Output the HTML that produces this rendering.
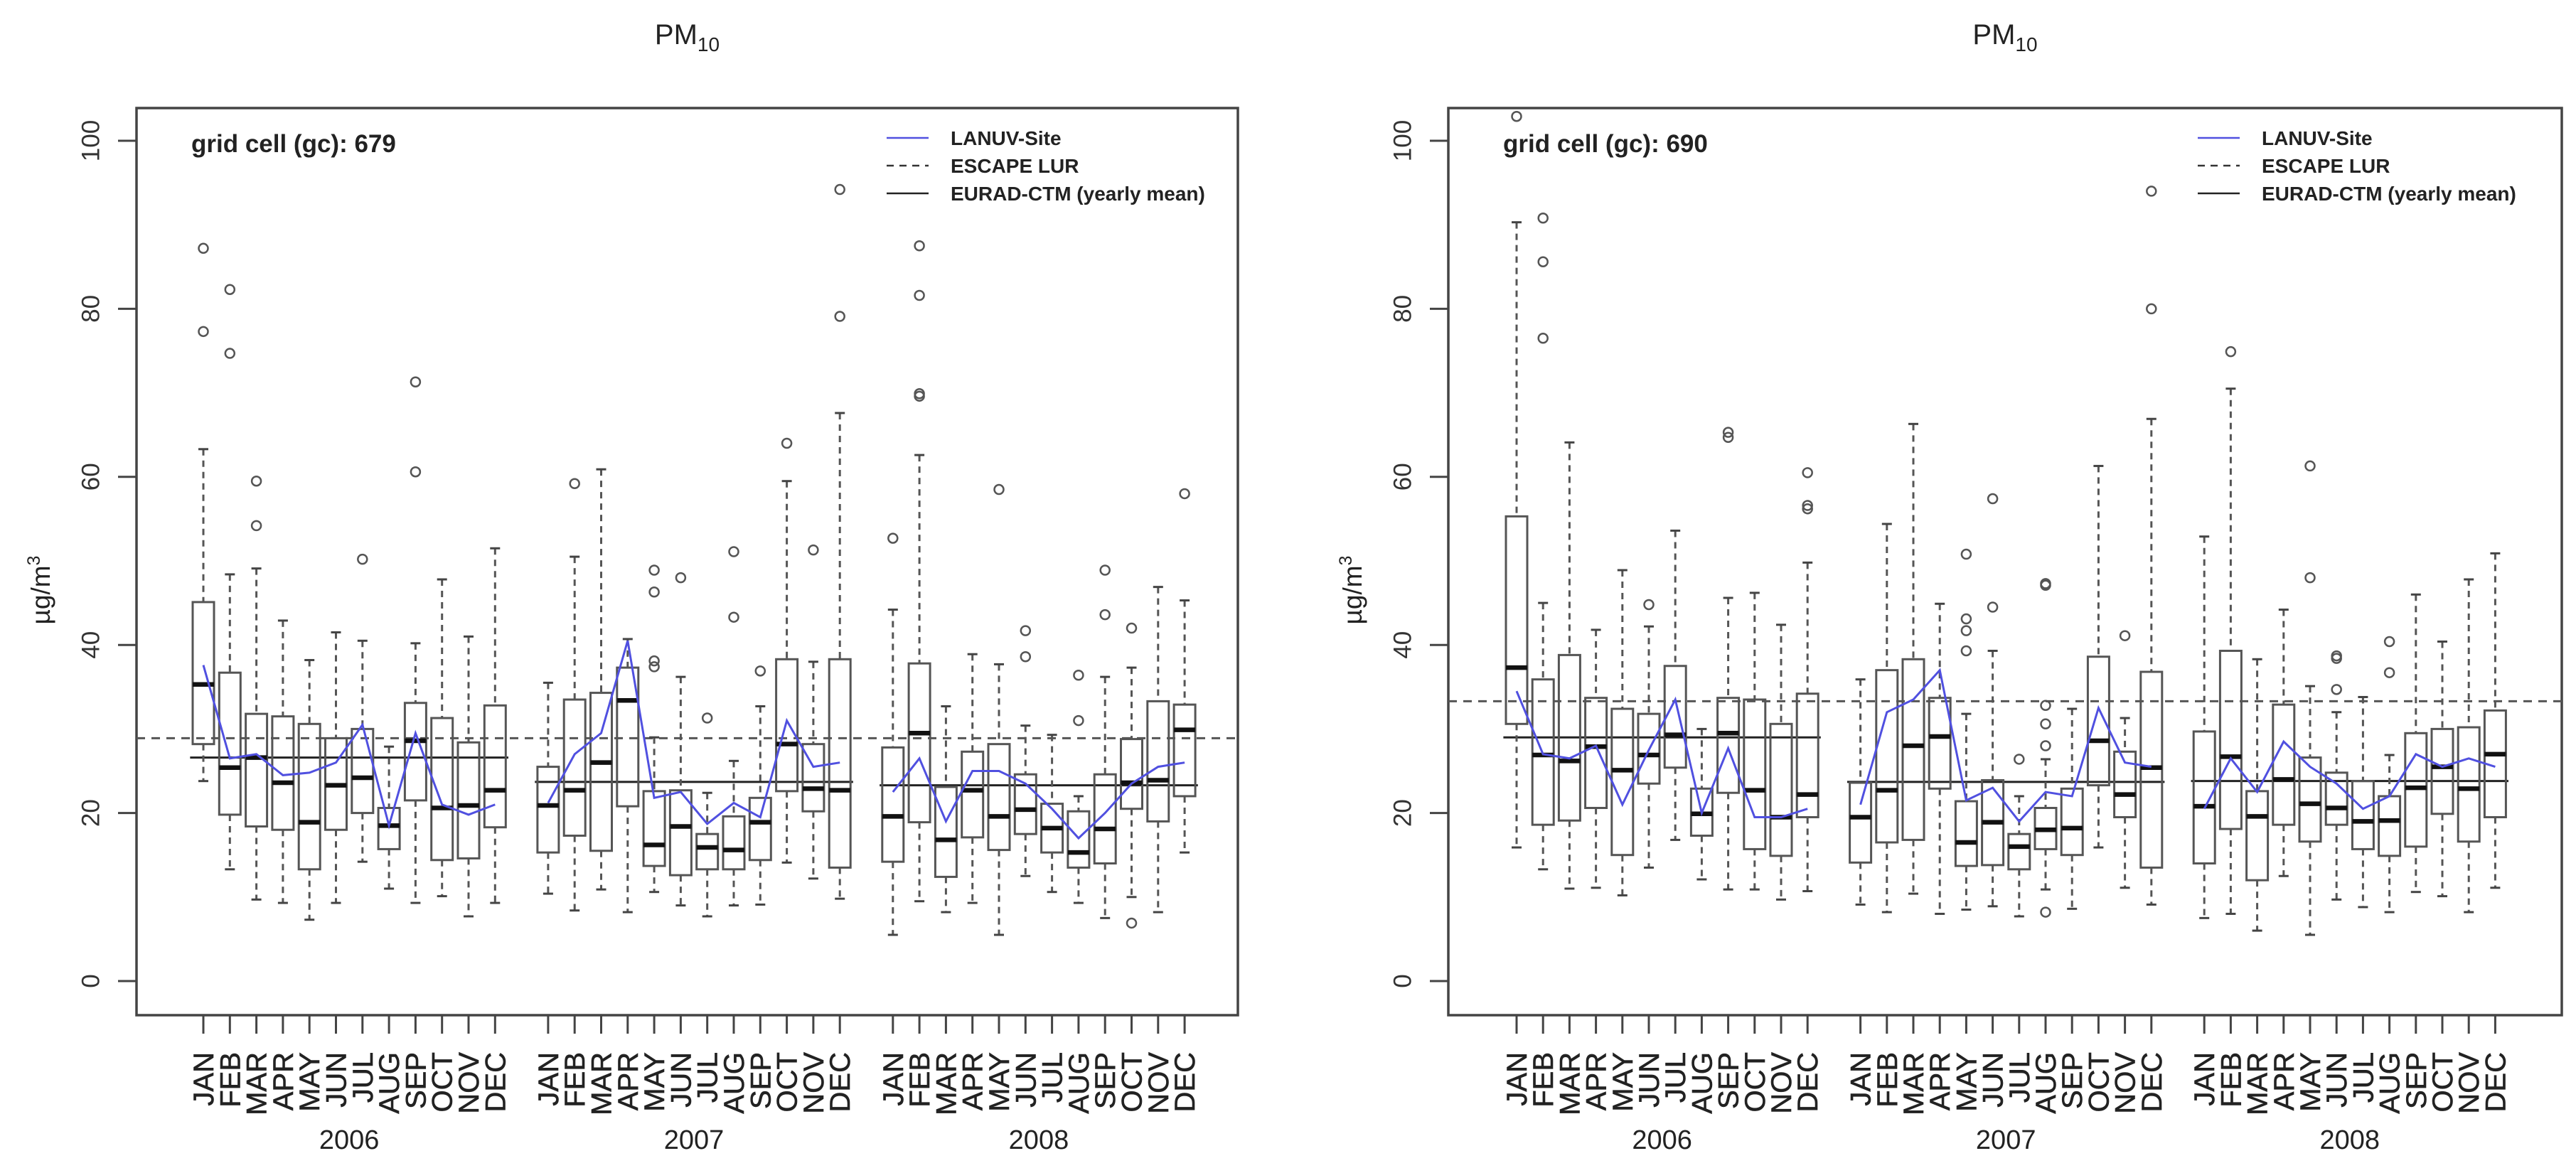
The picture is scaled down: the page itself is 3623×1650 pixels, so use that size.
<!DOCTYPE html>
<html><head><meta charset="utf-8"><style>
html,body{margin:0;padding:0;background:#fff;}
svg{display:block;font-family:"Liberation Sans",Arial,sans-serif;}
</style></head><body>
<svg id="chart" width="3623" height="1650" viewBox="0 0 3623 1650" xmlns="http://www.w3.org/2000/svg"></svg>
<script>
const months = ["JAN","FEB","MAR","APR","MAY","JUN","JUL","AUG","SEP","OCT","NOV","DEC"];
const years = ["2006","2007","2008"];
const yTicks = [0,20,40,60,80,100];

// Panel A: grid cell 679
const aLo  = [23.8,13.3,9.7,9.3,7.3,9.3,14.2,11,9.3,10.1,7.7,9.3, 10.4,8.4,10.9,8.2,10.6,9,7.7,9,9.1,14.1,12.2,9.8, 5.5,9.5,8.2,9.3,5.5,12.5,10.6,9.3,7.5,10,8.2,15.3];
const aQ1  = [28.2,19.8,18.4,18,13.3,18,20,15.7,21.5,14.4,14.6,18.3, 15.3,17.3,15.5,20.8,13.7,12.6,13.3,13.3,14.4,22.6,20.2,13.5, 14.2,18.9,12.4,17.1,15.6,17.5,15.3,13.5,14,20.5,19,22];
const aMed = [35.3,25.4,26.6,23.6,18.9,23.3,24.2,18.5,28.6,20.6,20.9,22.7, 20.9,22.7,26,33.4,16.2,18.4,15.9,15.6,18.9,28.2,22.9,22.7, 19.6,29.5,16.8,22.7,19.6,20.4,18.2,15.3,18.1,23.6,23.9,29.9];
const aQ3  = [45.1,36.7,31.8,31.5,30.6,28.9,30,20.6,33.1,31.3,28.4,32.8, 25.5,33.5,34.3,37.3,22.6,22.7,17.5,19.6,21.8,38.3,28.2,38.3, 27.8,37.8,23.1,27.3,28.2,24.6,21.1,20.2,24.6,28.8,33.3,32.9];
const aHi  = [63.3,48.4,49.1,42.9,38.2,41.5,40.5,27.9,40.2,47.8,41,51.5, 35.5,50.5,60.9,40.7,29,36.2,22.4,26.2,32.7,59.5,38,67.6, 44.2,62.6,32.7,38.9,37.7,30.4,29.3,22,36.2,37.3,46.9,45.3];
const aOut = [[77.3,87.2],[74.7,82.3],[54.2,59.5],[],[],[],[50.2],[],[60.6,71.3],[],[],[],
              [],[59.2],[],[],[37.4,38.1,46.3,48.9],[48],[31.3],[43.3,51.1],[36.9],[64],[51.3],[79.1,94.2],
              [52.7],[69.6,69.9,81.6,87.5],[],[],[58.5],[38.6,41.7],[],[31,36.4],[43.6,48.9],[6.9,42],[],[58]];
const aLanuv = [37.6,26.5,27,24.5,24.8,26,30.5,18.5,29.5,21,19.8,21, 21.2,27,29.5,40.5,21.8,22.5,18.7,21.2,19.5,31,25.5,26, 22.5,26.5,19,25,25,23.5,20.5,17,20,23.5,25.5,26];
const aEurad = [26.6,23.7,23.3];
const aEscape = [28.9];

// Panel B: grid cell 690
const bLo  = [15.9,13.3,11,11.1,10.2,13.5,16.8,12.1,10.9,10.9,9.7,10.7, 9.1,8.2,10.4,8,8.5,8.9,7.7,10.9,8.6,15.9,11.1,9.1, 7.5,8,6,12.5,5.5,9.7,8.8,8.2,10.6,10.1,8.2,11.1];
const bQ1  = [30.6,18.6,19.1,20.6,15,23.5,25.4,17.3,22.4,15.7,14.9,19.5, 14.1,16.5,16.8,22.9,13.7,13.8,13.3,15.7,15,23.3,19.5,13.5, 14,18.1,12,18.6,16.6,18.6,15.7,14.9,16,19.9,16.6,19.5];
const bMed = [37.3,26.9,26.2,27.9,25.1,26.9,29.3,19.9,29.5,22.7,19.5,22.2, 19.5,22.7,28,29.1,16.5,18.9,16,18,18.2,28.6,22.2,25.4, 20.8,26.7,19.6,24,21.1,20.6,19,19.1,23,25.5,22.9,27];
const bQ3  = [55.3,35.9,38.8,33.7,32.4,31.8,37.5,22.9,33.7,33.5,30.6,34.2, 23.6,37,38.3,33.7,21.4,23.9,17.5,20.6,22.9,38.6,27.3,36.8, 29.7,39.3,22.6,32.9,26.6,24.8,23.8,22,29.5,30,30.2,32.2];
const bHi  = [90.3,45,64.1,41.8,48.9,42.2,53.6,30,45.6,46.2,42.4,49.8, 35.9,54.4,66.3,44.9,31.8,39.3,22,26.4,32.4,61.3,31.3,66.9, 52.9,70.5,38.3,44.2,35.1,32,33.8,26.9,46,40.4,47.8,50.9];
const bOut = [[102.9],[76.5,85.6,90.8],[],[],[],[44.8],[],[],[64.7,65.3],[],[],[56.2,56.6,60.5],
              [],[],[],[],[39.3,41.7,43.1,50.8],[44.5,57.4],[26.4],[8.2,28,30.6,32.8,47.1,47.3],[],[],[41.1],[80,94],
              [],[74.9],[],[],[48,61.3],[34.7,38.4,38.7],[],[36.7,40.4],[],[],[],[]];
const bLanuv = [34.5,27,26.5,28,21,27.5,33.5,20,27.7,19.5,19.5,20.5, 21,32,33.5,37,21.5,23,19,22.5,22,32.5,26,25.5, 20.5,26.5,22.5,28.5,25.5,23.5,20.5,22,27,25.5,26.5,25.5];
const bEurad = [29,23.7,23.8];
const bEscape = [33.3];

const NS = "http://www.w3.org/2000/svg";
const svg = document.getElementById("chart");
function mk(tag, attrs, parent){
  const e = document.createElementNS(NS, tag);
  for (const k in attrs) e.setAttribute(k, attrs[k]);
  (parent||svg).appendChild(e);
  return e;
}

function drawPanel(P){
  const g = mk("g", {});
  
  
  const Y = v => P.y0 + (P.y100 - P.y0) * v / 100;
  const X = i => P.x0 + P.step * (Math.floor(i/12)*13 + (i%12));
  const stroke = "#444";

  const t = mk("text", {x:(P.left+P.right)/2, y:62, "font-size":40, "text-anchor":"middle", fill:"#222"}, g);
  
  
  t.appendChild(document.createTextNode("PM"));
  const sub = mk("tspan", {"font-size":28, dy:10}, t);
  sub.textContent = "10";

  const fr = mk("rect", {x:P.left, y:P.top, width:P.right-P.left, height:P.bottom-P.top, fill:"none", stroke:stroke, "stroke-width":3.5}, g);
  
  

  yTicks.forEach(v => {
    const tk = mk("line", {x1:P.left-26, x2:P.left, y1:Y(v), y2:Y(v), stroke:stroke, "stroke-width":3}, g);
    
    
    const lb = mk("text", {x:0, y:0, transform:`translate(${P.left-62},${Y(v)}) rotate(-90)`, "font-size":35, "text-anchor":"middle", "dominant-baseline":"middle", fill:"#333"}, g);
    
    
    lb.textContent = v;
  });
  const yt = mk("text", {x:0, y:0, transform:`translate(${P.left-122},${(P.top+P.bottom)/2+40}) rotate(-90)`, "font-size":37, "text-anchor":"middle", fill:"#222"}, g);
  
  
  yt.appendChild(document.createTextNode("\u00B5g/m"));
  const sup = mk("tspan", {"font-size":25, dy:-14}, yt);
  sup.textContent = "3";

  for (let i = 0; i < 36; i++){
    const x = X(i);
    const tk = mk("line", {x1:x, x2:x, y1:P.bottom, y2:P.bottom+26, stroke:stroke, "stroke-width":3}, g);
    
    
    const lb = mk("text", {x:0, y:0, transform:`translate(${x+14},${P.bottom+52}) rotate(-90)`, "font-size":40, "text-anchor":"end", fill:"#222", stroke:"#222", "stroke-width":0.6}, g);
    
    
    lb.textContent = months[i%12];
  }
  years.forEach((yr, k) => {
    const cx = (X(k*12) + X(k*12+11)) / 2;
    const lb = mk("text", {x:cx, y:1616, "font-size":38, "text-anchor":"middle", fill:"#222"}, g);
    
    
    lb.textContent = yr;
  });

  const esc = mk("line", {x1:P.left, x2:P.right, y1:Y(P.escape[0]), y2:Y(P.escape[0]), stroke:"#555", "stroke-width":3, "stroke-dasharray":"12 9"}, g);
  
  

  P.eurad.forEach((v, k) => {
    const l = mk("line", {x1:X(k*12)-P.step*0.5, x2:X(k*12+11)+P.step*0.5, y1:Y(v), y2:Y(v), stroke:"#222", "stroke-width":3}, g);
    
    
  });

  const hw = 15;
  for (let i = 0; i < 36; i++){
    const x = X(i);
    const bg = mk("g", {}, g);
    
    
    mk("line", {x1:x, x2:x, y1:Y(P.hi[i]), y2:Y(P.q3[i]), stroke:"#555", "stroke-width":3, "stroke-dasharray":"9 7"}, bg);
    mk("line", {x1:x, x2:x, y1:Y(P.q1[i]), y2:Y(P.lo[i]), stroke:"#555", "stroke-width":3, "stroke-dasharray":"9 7"}, bg);
    mk("line", {x1:x-7, x2:x+7, y1:Y(P.hi[i]), y2:Y(P.hi[i]), stroke:"#444", "stroke-width":3}, bg);
    mk("line", {x1:x-7, x2:x+7, y1:Y(P.lo[i]), y2:Y(P.lo[i]), stroke:"#444", "stroke-width":3}, bg);
    mk("rect", {x:x-hw, y:Y(P.q3[i]), width:2*hw, height:Y(P.q1[i])-Y(P.q3[i]), fill:"none", stroke:"#555", "stroke-width":3}, bg);
    mk("line", {x1:x-hw, x2:x+hw, y1:Y(P.med[i]), y2:Y(P.med[i]), stroke:"#111", "stroke-width":6.5}, bg);
    P.out[i].forEach(v => {
      const c = mk("circle", {cx:x, cy:Y(v), r:6.5, fill:"none", stroke:"#555", "stroke-width":2.5}, bg);
      
      
    });
  }

  for (let k = 0; k < 3; k++){
    const pts = [];
    for (let j = 0; j < 12; j++) pts.push(X(k*12+j) + "," + Y(P.lanuv[k*12+j]));
    const pl = mk("polyline", {points:pts.join(" "), fill:"none", stroke:"#5050e0", "stroke-width":3}, g);
    
    
  }

  const gc = mk("text", {x:P.left+77, y:214, "font-size":35, "font-weight":"bold", fill:"#222"}, g);
  
  
  gc.textContent = "grid cell (gc): " + P.gc;

  const lg = mk("g", {}, g);
  
  
  const items = [["LANUV-Site","#5050e0",""],["ESCAPE LUR","#333","10 8"],["EURAD-CTM (yearly mean)","#222",""]];
  items.forEach((it, r) => {
    const yy = 194 + r*39;
    const e = mk("g", {}, lg);
    
    
    mk("line", {x1:P.legX, x2:P.legX+59, y1:yy, y2:yy, stroke:it[1], "stroke-width":2.5, "stroke-dasharray":it[2]||"none"}, e);
    const tx = mk("text", {x:P.legX+90, y:yy+10, "font-size":28, "font-weight":"bold", fill:"#222"}, e);
    tx.textContent = it[0];
  });
}

drawPanel({name:"panel-gc-679", gc:"679", left:192, right:1741, top:152, bottom:1428, y0:1380, y100:198, x0:286, step:37.3, legX:1247,
  lo:aLo, q1:aQ1, med:aMed, q3:aQ3, hi:aHi, out:aOut, lanuv:aLanuv, eurad:aEurad, escape:aEscape});
drawPanel({name:"panel-gc-690", gc:"690", left:2037, right:3603, top:152, bottom:1428, y0:1380, y100:198, x0:2133, step:37.2, legX:3091,
  lo:bLo, q1:bQ1, med:bMed, q3:bQ3, hi:bHi, out:bOut, lanuv:bLanuv, eurad:bEurad, escape:bEscape});
</script>
</body></html>
